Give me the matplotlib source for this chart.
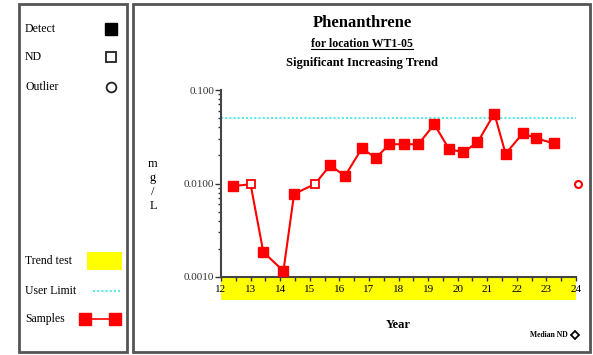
#!/usr/bin/env python3

import matplotlib
matplotlib.use('Agg')
import matplotlib.pyplot as plt
from matplotlib.patches import Rectangle
from matplotlib.lines import Line2D
from matplotlib.ticker import FixedLocator, NullFormatter

# sample data (year offset, mg/L)
years = [12.42, 13.00, 13.43, 14.11, 14.47, 15.18, 15.69, 16.19, 16.76, 17.24,
         17.69, 18.19, 18.67, 19.21, 19.71, 20.19, 20.67, 21.24, 21.62, 22.20,
         22.65, 23.26]
values = [0.0094, 0.0098, 0.00185, 0.00116, 0.0077, 0.0099, 0.0157, 0.0120,
          0.0237, 0.0188, 0.0263, 0.0263, 0.0263, 0.0430, 0.0233, 0.0216,
          0.0275, 0.0560, 0.0208, 0.0344, 0.0305, 0.0268]
nondetect = [False, True, False, False, False, True, False, False, False, False,
             False, False, False, False, False, False, False, False, False, False,
             False, False]
median_nd_year = 24.07
median_nd_value = 0.0098
user_limit = 0.050
xticks = list(range(12, 25))
yticks = [0.001, 0.01, 0.1]
yticklabels = ['0.0010', '0.0100', '0.100']

SERIF = 'Liberation Serif'
W, H = 593, 355


def fx(px):
    return px / W


def fy(py):
    return 1 - py / H


def main():
    plt.rcParams['font.family'] = SERIF
    fig = plt.figure(figsize=(W / 100, H / 100), dpi=100)

    # panel frames
    for x0, x1 in [(19, 127), (133, 590)]:
        fig.patches.append(Rectangle((fx(x0), fy(352)), fx(x1 - x0), (352 - 4) / H,
                                     transform=fig.transFigure, fill=False,
                                     edgecolor='#555555', linewidth=2))

    ax = fig.add_axes([fx(221), fy(277), fx(576 - 221), (277 - 90) / H])
    ax.set_yscale('log')
    ax.set_xlim(12, 24)
    ax.set_ylim(0.001, 0.1)

    # trend test band under the axis
    ax.add_patch(Rectangle((0, -23 / 187), 1, 23 / 187, transform=ax.transAxes,
                           facecolor='#ffff00', edgecolor='none', clip_on=False, zorder=0))

    ax.axhline(user_limit, color='#5ee8ee', linestyle=(0, (1, 1)), linewidth=1.5)

    ax.plot(years, values, color='red', linewidth=1.5, zorder=3)
    dx = [x for x, n in zip(years, nondetect) if not n]
    dy = [v for v, n in zip(values, nondetect) if not n]
    nx = [x for x, n in zip(years, nondetect) if n]
    ny = [v for v, n in zip(values, nondetect) if n]
    ax.plot(dx, dy, 's', color='red', markersize=6.5, linestyle='none', zorder=4)
    ax.plot(nx, ny, 's', markerfacecolor='white', markeredgecolor='red',
            markeredgewidth=1.3, markersize=5.5, linestyle='none', zorder=4)
    ax.plot([median_nd_year], [median_nd_value], 'o', markerfacecolor='white',
            markeredgecolor='red', markeredgewidth=1.5, markersize=5,
            linestyle='none', clip_on=False, zorder=4)

    for s in ['top', 'right']:
        ax.spines[s].set_visible(False)
    for s in ['left', 'bottom']:
        ax.spines[s].set_color('#444444')
        ax.spines[s].set_linewidth(1.5)

    ax.set_xticks(xticks)
    ax.set_xticklabels([str(t) for t in xticks], fontsize=8)
    ax.set_xticks([t + 0.5 for t in xticks[:-1]], minor=True)
    ax.tick_params(axis='x', which='both', direction='out', length=3, width=1,
                   color='#333333', pad=3)

    ax.yaxis.set_major_locator(FixedLocator(yticks))
    ax.set_yticklabels(yticklabels, fontsize=8, color='#333333')
    ax.yaxis.set_minor_formatter(NullFormatter())
    ax.tick_params(axis='y', which='major', length=4, width=1, color='#333333', pad=1)
    ax.tick_params(axis='y', which='minor', length=2.5, width=1, color='#333333')

    # titles
    cx = fx(362)
    fig.text(cx, fy(23), 'Phenanthrene', ha='center', va='center',
             fontsize=12, fontweight='bold')
    t = fig.text(cx, fy(44), 'for location WT1-05', ha='center', va='center',
                 fontsize=8.5, fontweight='bold')
    fig.canvas.draw()
    bb = t.get_window_extent().transformed(fig.transFigure.inverted())
    fig.add_artist(Line2D([bb.x0, bb.x1], [bb.y0 + 0.003, bb.y0 + 0.003],
                          transform=fig.transFigure, color='black', linewidth=0.8))
    fig.text(cx, fy(63), 'Significant Increasing Trend', ha='center', va='center',
             fontsize=9, fontweight='bold')

    fig.text(fx(153), fy(185), 'm\ng\n/\nL', ha='center', va='center',
             fontsize=9, linespacing=1.2)
    fig.text(fx(398), fy(325), 'Year', ha='center', va='center',
             fontsize=9, fontweight='bold')
    fig.text(fx(568), fy(335), 'Median ND', ha='right', va='center',
             fontsize=5.5, fontweight='bold')
    fig.add_artist(Line2D([fx(575)], [fy(335)], marker='D', markersize=4,
                          markerfacecolor='white', markeredgecolor='black',
                          markeredgewidth=1.3, transform=fig.transFigure))

    # legend panel
    lx = fx(25)
    fs = 8.5
    fig.text(lx, fy(29), 'Detect', va='center', fontsize=fs)
    fig.add_artist(Line2D([fx(111)], [fy(29)], marker='s', markersize=8,
                          color='black', transform=fig.transFigure))
    fig.text(lx, fy(57), 'ND', va='center', fontsize=fs)
    fig.add_artist(Line2D([fx(111)], [fy(57)], marker='s', markersize=7,
                          markerfacecolor='white', markeredgecolor='#222222',
                          markeredgewidth=1.3, transform=fig.transFigure))
    fig.text(lx, fy(87), 'Outlier', va='center', fontsize=fs)
    fig.add_artist(Line2D([fx(111)], [fy(87)], marker='o', markersize=7,
                          markerfacecolor='white', markeredgecolor='#222222',
                          markeredgewidth=1.3, transform=fig.transFigure))

    fig.text(lx, fy(261), 'Trend test', va='center', fontsize=fs)
    fig.patches.append(Rectangle((fx(87), fy(270)), fx(35), 18 / H,
                                 transform=fig.transFigure, facecolor='#ffff00',
                                 edgecolor='none'))
    fig.text(lx, fy(291), 'User Limit', va='center', fontsize=fs)
    fig.add_artist(Line2D([fx(93), fx(120)], [fy(291), fy(291)], color='#5ee8ee',
                          linestyle=(0, (1, 1)), linewidth=1.5,
                          transform=fig.transFigure))
    fig.text(lx, fy(319), 'Samples', va='center', fontsize=fs)
    fig.add_artist(Line2D([fx(85), fx(115)], [fy(319), fy(319)], color='red',
                          linewidth=1.2, marker='s', markersize=9,
                          transform=fig.transFigure))

    fig.savefig('out.png', dpi=100)


if __name__ == "__main__":
    main()
